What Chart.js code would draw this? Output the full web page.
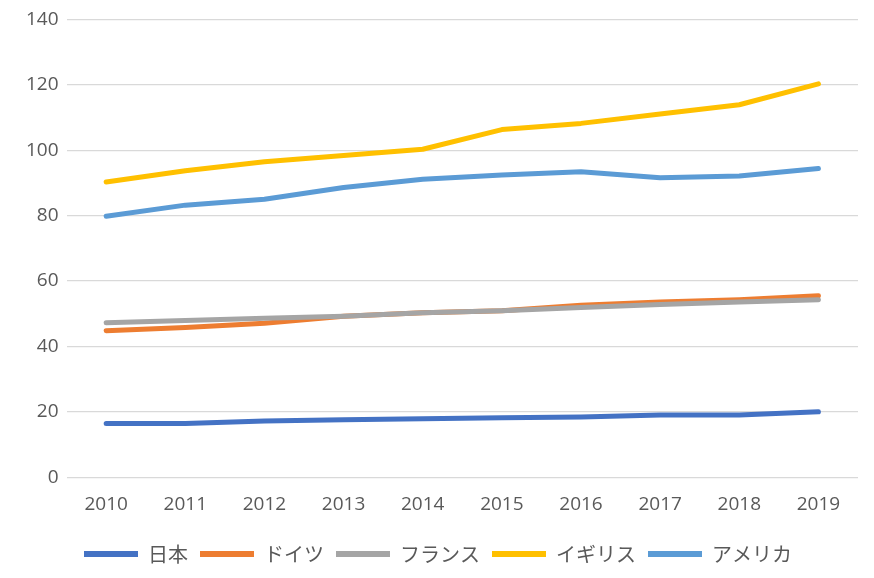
<!DOCTYPE html>
<html>
<head>
<meta charset="utf-8">
<script src="https://cdn.jsdelivr.net/npm/chart.js@4.4.1/dist/chart.umd.min.js"></script>
<style>
  html, body { margin: 0; padding: 0; background: #fff; }
  #wrap { width: 874px; height: 578px; }
</style>
</head>
<body>
<div id="wrap"><canvas id="myChart"></canvas></div>
<script>
// データ
const years = ['2010', '2011', '2012', '2013', '2014', '2015', '2016', '2017', '2018', '2019'];
const seriesNames = ['日本', 'ドイツ', 'フランス', 'イギリス', 'アメリカ'];
const japan   = [16.4, 16.4, 17.2, 17.6, 17.9, 18.2, 18.4, 19.0, 19.0, 20.0];
const germany = [44.8, 45.8, 47.1, 49.2, 50.3, 50.9, 52.6, 53.6, 54.3, 55.5];
const france  = [47.2, 47.9, 48.6, 49.2, 50.3, 50.9, 51.9, 52.8, 53.6, 54.3];
const uk      = [90.3, 93.7, 96.5, 98.4, 100.3, 106.3, 108.2, 111.1, 113.9, 120.3];
const usa     = [79.8, 83.2, 85.0, 88.6, 91.1, 92.4, 93.4, 91.6, 92.1, 94.4];
const colors  = ['#4472C4', '#ED7D31', '#A5A5A5', '#FFC000', '#5B9BD5'];

const fontFamily = "'Open Sans', sans-serif";
const allValues = [japan, germany, france, uk, usa];

const ctx = document.getElementById('myChart');
new Chart(ctx, {
  type: 'line',
  data: {
    labels: years,
    datasets: allValues.map((vals, i) => ({
      label: seriesNames[i],
      data: vals,
      borderColor: colors[i],
      backgroundColor: colors[i],
      borderWidth: 5,
      borderCapStyle: 'round',
      borderJoinStyle: 'round',
      pointRadius: 0,
      tension: 0,
      order: 5 - i   // 後の系列を上に描く
    }))
  },
  options: {
    responsive: true,
    maintainAspectRatio: false,
    animation: false,
    layout: { padding: { left: 18, right: 16, top: 0, bottom: 4 } },
    scales: {
      x: {
        offset: true,
        grid: { display: false, drawTicks: false },
        border: { display: false },
        ticks: {
          color: '#595959',
          padding: 16,
          font: { family: fontFamily, size: 19 }
        }
      },
      y: {
        min: 0,
        max: 140,
        ticks: {
          stepSize: 20,
          color: '#595959',
          padding: 8,
          font: { family: fontFamily, size: 19 }
        },
        grid: { color: '#D9D9D9', lineWidth: 1.3, drawTicks: false },
        border: { display: false }
      }
    },
    plugins: {
      tooltip: { enabled: false },
      legend: {
        position: 'bottom',
        labels: {
          color: '#595959',
          boxWidth: 54,
          boxHeight: 6,
          padding: 12,
          font: { family: "'Noto Sans CJK JP', sans-serif", size: 20 },
          sort: (a, b) => a.datasetIndex - b.datasetIndex,
          generateLabels: chart => chart.data.datasets.map((ds, i) => ({
            text: ds.label,
            fillStyle: ds.borderColor,
            strokeStyle: ds.borderColor,
            lineWidth: 0,
            fontColor: '#595959',
            datasetIndex: i
          }))
        }
      }
    }
  }
});
</script>
</body>
</html>
